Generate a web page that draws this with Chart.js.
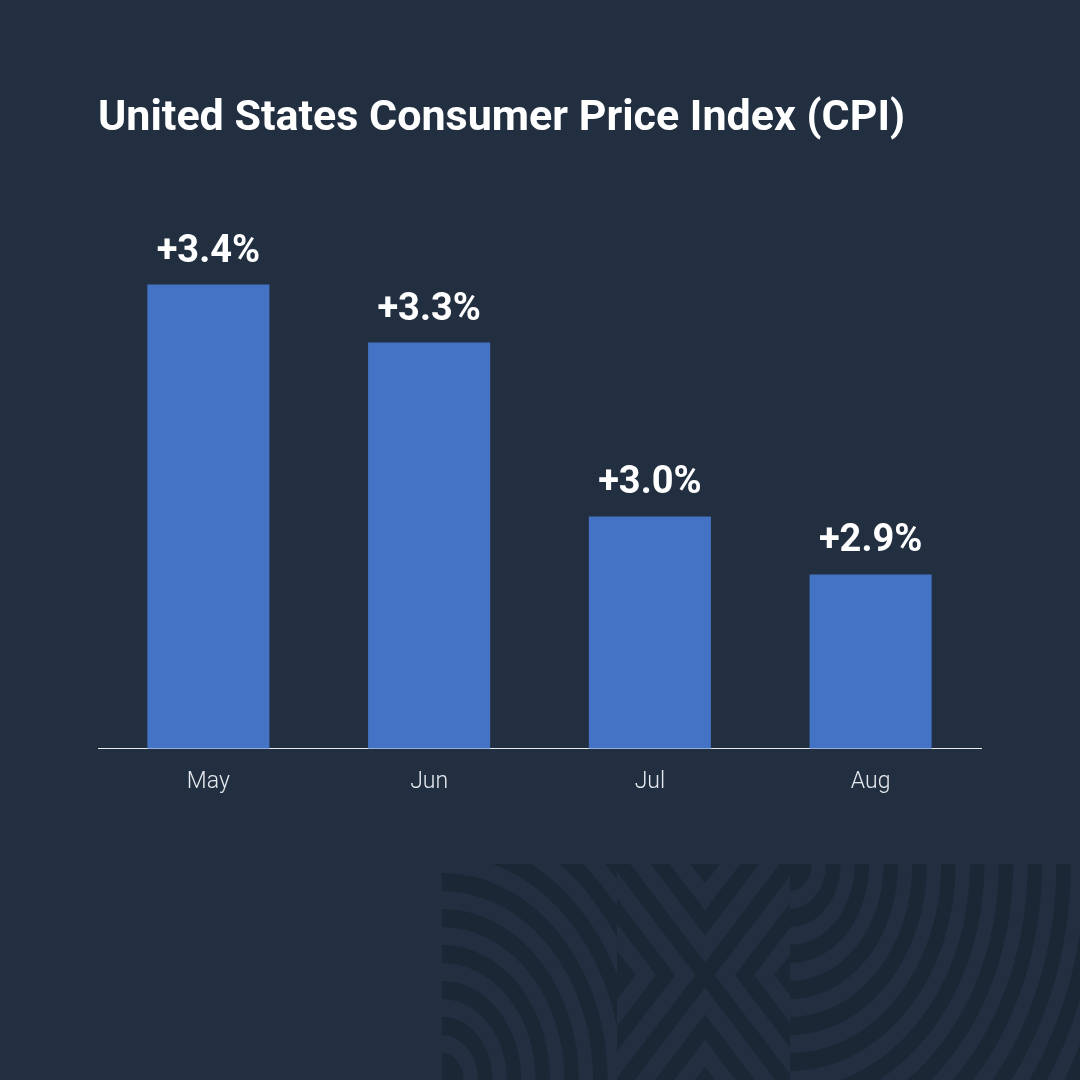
<!DOCTYPE html>
<html>
<head>
<meta charset="utf-8">
<script src="https://cdn.jsdelivr.net/npm/chart.js@4"></script>
<style>
  html, body { margin: 0; padding: 0; background: #212f40; }
  .chart-container { width: 1080px; height: 1080px; position: relative; }
</style>
</head>
<body>
<div class="chart-container"><canvas id="cpiChart"></canvas></div>
<script>
// Data
const months = ['May', 'Jun', 'Jul', 'Aug'];
const cpiValues = [3.4, 3.3, 3.0, 2.9];
const valueLabels = ['+3.4%', '+3.3%', '+3.0%', '+2.9%'];
const chartTitle = 'United States Consumer Price Index (CPI)';

// Colors
const bgColor = '#212f40';
const stripeColor = '#1b2735';
const barColor = '#4472c4';

// Concentric arcs used in the corner decoration
function drawArcs(ctx, cx, cy, clip) {
    ctx.save();
    ctx.beginPath();
    ctx.rect(clip[0], clip[1], clip[2], clip[3]);
    ctx.clip();
    ctx.translate(cx, cy);
    ctx.scale(0.8, 1);
    ctx.fillStyle = stripeColor;
    ctx.strokeStyle = stripeColor;
    ctx.beginPath();
    ctx.arc(0, 0, 27, 0, Math.PI * 2);
    ctx.fill();
    ctx.lineWidth = 18;
    for (let r = 54; r < 520; r += 36) {
        ctx.beginPath();
        ctx.arc(0, 0, r, 0, Math.PI * 2);
        ctx.stroke();
    }
    ctx.restore();
}

// X with nested chevrons
function drawCross(ctx, cx, cy, clip) {
    ctx.save();
    ctx.beginPath();
    ctx.rect(clip[0], clip[1], clip[2], clip[3]);
    ctx.clip();
    ctx.translate(cx, cy);
    ctx.scale(0.76, 1);
    ctx.strokeStyle = stripeColor;
    ctx.lineWidth = 17.7;
    ctx.lineJoin = 'miter';
    const L = 300;
    ctx.beginPath();
    ctx.moveTo(-L, -L); ctx.lineTo(L, L);
    ctx.moveTo(-L, L); ctx.lineTo(L, -L);
    ctx.stroke();
    [52, 104, 156, 208].forEach(d => {
        ctx.beginPath();
        ctx.moveTo(-L, -d - L); ctx.lineTo(0, -d); ctx.lineTo(L, -d - L);
        ctx.moveTo(-L, d + L); ctx.lineTo(0, d); ctx.lineTo(L, d + L);
        ctx.moveTo(-d - L, -L); ctx.lineTo(-d, 0); ctx.lineTo(-d - L, L);
        ctx.moveTo(d + L, -L); ctx.lineTo(d, 0); ctx.lineTo(d + L, L);
        ctx.stroke();
    });
    ctx.restore();
}

const backgroundPlugin = {
    id: 'background',
    beforeDraw(chart) {
        const ctx = chart.ctx;
        ctx.save();
        ctx.fillStyle = bgColor;
        ctx.fillRect(0, 0, chart.width, chart.height);
        ctx.restore();
        drawArcs(ctx, 442, 1080, [442, 864, 175, 216]);
        drawCross(ctx, 705, 975, [617, 864, 173, 216]);
        drawArcs(ctx, 790, 864, [790, 864, 290, 216]);
    }
};

// Value labels above the bars
const valueLabelPlugin = {
    id: 'valueLabels',
    afterDatasetsDraw(chart) {
        const ctx = chart.ctx;
        const meta = chart.getDatasetMeta(0);
        ctx.save();
        ctx.fillStyle = '#ffffff';
        ctx.font = 'bold 38px Roboto';
        ctx.textAlign = 'center';
        ctx.textBaseline = 'alphabetic';
        meta.data.forEach((bar, i) => {
            ctx.fillText(valueLabels[i], bar.x, bar.y - 23);
        });
        ctx.restore();
    }
};

const ctx = document.getElementById('cpiChart').getContext('2d');
new Chart(ctx, {
    type: 'bar',
    data: {
        labels: months,
        datasets: [{
            data: cpiValues,
            backgroundColor: barColor,
            borderWidth: 0,
            barPercentage: 0.553,
            categoryPercentage: 1
        }]
    },
    options: {
        responsive: true,
        maintainAspectRatio: false,
        animation: false,
        layout: {
            padding: { top: 93, left: 98, right: 99, bottom: 264 }
        },
        plugins: {
            legend: { display: false },
            tooltip: { enabled: false },
            title: {
                display: true,
                text: chartTitle,
                align: 'start',
                color: '#ffffff',
                font: { family: 'Roboto', size: 43, weight: 'bold', lineHeight: 1.2 },
                padding: { top: 0, bottom: 82 }
            }
        },
        scales: {
            x: {
                grid: { display: false, drawTicks: false },
                border: { display: true, color: '#e6e9ee', width: 1 },
                ticks: {
                    color: '#e6e9ee',
                    padding: 20,
                    font: { family: 'Roboto', size: 23, weight: 300 }
                }
            },
            y: {
                display: false,
                min: 2.6,
                max: 3.5
            }
        }
    },
    plugins: [backgroundPlugin, valueLabelPlugin]
});
</script>
</body>
</html>
